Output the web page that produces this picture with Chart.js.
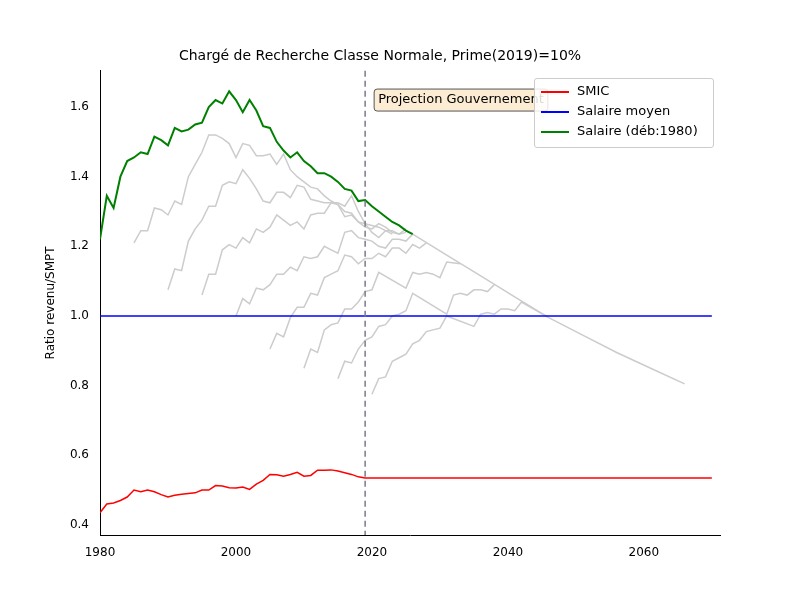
<!DOCTYPE html>
<html>
<head>
<meta charset="utf-8">
<script src="https://cdn.jsdelivr.net/npm/chart.js@4/dist/chart.umd.min.js"></script>
<style>
  body { margin: 0; background: #fff; }
  #wrap { width: 800px; height: 600px; position: relative; }
</style>
</head>
<body>
<div id="wrap"><canvas id="c" width="800" height="600"></canvas>
<div id="leg" style="position:absolute;left:534px;top:78px;width:178px;height:68px;border:1px solid #ccc;border-radius:3px;background:rgba(255,255,255,0.85);font:13px 'DejaVu Sans';">
  <div style="position:absolute;left:6px;top:4px;"><span style="display:inline-block;width:28px;border-top:2px solid red;vertical-align:middle;margin-right:8px"></span>SMIC</div>
  <div style="position:absolute;left:6px;top:24px;"><span style="display:inline-block;width:28px;border-top:2px solid blue;vertical-align:middle;margin-right:8px"></span>Salaire moyen</div>
  <div style="position:absolute;left:6px;top:44px;"><span style="display:inline-block;width:28px;border-top:2px solid green;vertical-align:middle;margin-right:8px"></span>Salaire (déb:1980)</div>
</div>
</div>
<script>
// SMIC / SMPT (flat after 2019)
const smicYears = [1980,1981,1982,1983,1984,1985,1986,1987,1988,1989,1990,1991,1992,1993,1994,1995,1996,1997,1998,1999,2000,2001,2002,2003,2004,2005,2006,2007,2008,2009,2010,2011,2012,2013,2014,2015,2016,2017,2018,2019,2070];
const smicVals = [0.435,0.46,0.463,0.47,0.48,0.5,0.495,0.5,0.495,0.487,0.48,0.485,0.488,0.49,0.492,0.5,0.5,0.513,0.512,0.507,0.506,0.509,0.502,0.517,0.528,0.545,0.544,0.54,0.545,0.551,0.54,0.542,0.557,0.557,0.558,0.555,0.55,0.545,0.538,0.535,0.535];

const greenYears = [1980,1981,1982,1983,1984,1985,1986,1987,1988,1989,1990,1991,1992,1993,1994,1995,1996,1997,1998,1999,2000,2001,2002,2003,2004,2005,2006,2007,2008,2009,2010,2011,2012,2013,2014,2015,2016,2017,2018,2019,2020,2021,2022,2023,2024,2025,2026];
const greenVals = [1.22,1.345,1.31,1.40,1.445,1.455,1.47,1.465,1.515,1.505,1.49,1.54,1.53,1.535,1.55,1.555,1.60,1.62,1.61,1.645,1.62,1.585,1.62,1.59,1.545,1.54,1.5,1.475,1.455,1.47,1.445,1.43,1.41,1.41,1.40,1.385,1.365,1.36,1.33,1.333,1.315,1.30,1.285,1.27,1.26,1.245,1.235];

// grey careers: [year, ratio] pairs
const career1985 = [[1985,1.21],[1986,1.245],[1987,1.245],[1988,1.31],[1989,1.305],[1990,1.29],[1991,1.33],[1992,1.32],[1993,1.40],[1994,1.435],[1995,1.47],[1996,1.52],[1997,1.52],[1998,1.51],[1999,1.495],[2000,1.455],[2001,1.495],[2002,1.49],[2003,1.46],[2004,1.46],[2005,1.465],[2006,1.435],[2007,1.465],[2008,1.42],[2009,1.40],[2010,1.385],[2011,1.37],[2012,1.365],[2013,1.345],[2014,1.33],[2015,1.32],[2016,1.30],[2017,1.295],[2018,1.27],[2019,1.265],[2020,1.26],[2021,1.255],[2022,1.245],[2023,1.235]];
const career1990 = [[1990,1.075],[1991,1.135],[1992,1.13],[1993,1.215],[1994,1.25],[1995,1.275],[1996,1.315],[1997,1.315],[1998,1.375],[1999,1.385],[2000,1.38],[2001,1.42],[2002,1.395],[2003,1.365],[2004,1.33],[2005,1.325],[2006,1.355],[2007,1.355],[2008,1.34],[2009,1.375],[2010,1.37],[2011,1.335],[2012,1.33],[2013,1.325],[2014,1.325],[2015,1.32],[2016,1.285],[2017,1.29],[2018,1.27],[2019,1.255],[2020,1.25],[2021,1.265],[2022,1.255],[2023,1.24],[2024,1.235],[2025,1.24]];
const career1995 = [[1995,1.06],[1996,1.12],[1997,1.12],[1998,1.19],[1999,1.205],[2000,1.195],[2001,1.225],[2002,1.21],[2003,1.25],[2004,1.24],[2005,1.255],[2006,1.29],[2007,1.275],[2008,1.26],[2009,1.27],[2010,1.25],[2011,1.29],[2012,1.295],[2013,1.295],[2014,1.325],[2015,1.325],[2016,1.315],[2017,1.345],[2018,1.30],[2019,1.265],[2020,1.24],[2021,1.225],[2022,1.245],[2023,1.245],[2024,1.235],[2025,1.25]];
const career2000 = [[2000,1.0],[2001,1.05],[2002,1.035],[2003,1.08],[2004,1.075],[2005,1.09],[2006,1.12],[2007,1.12],[2008,1.14],[2009,1.13],[2010,1.17],[2011,1.165],[2012,1.17],[2013,1.2],[2014,1.19],[2015,1.18],[2016,1.24],[2017,1.245],[2018,1.225],[2019,1.22],[2020,1.215],[2021,1.20],[2022,1.195],[2023,1.22],[2024,1.22],[2025,1.215],[2026,1.235]];
const career2005 = [[2005,0.905],[2006,0.95],[2007,0.94],[2008,0.995],[2009,1.025],[2010,1.025],[2011,1.065],[2012,1.06],[2013,1.11],[2014,1.12],[2015,1.13],[2016,1.175],[2017,1.17],[2018,1.15],[2019,1.165],[2020,1.165],[2021,1.18],[2022,1.17],[2023,1.195],[2024,1.195],[2025,1.18],[2026,1.205],[2027,1.195],[2028,1.21]];
const career2010 = [[2010,0.85],[2011,0.905],[2012,0.895],[2013,0.96],[2014,0.975],[2015,0.98],[2016,1.02],[2017,1.02],[2018,1.04],[2019,1.07],[2020,1.075],[2021,1.125],[2025,1.08],[2026,1.125],[2027,1.12],[2028,1.125],[2029,1.12],[2030,1.11],[2031,1.155],[2033,1.15]];
const career2015 = [[2015,0.82],[2016,0.87],[2017,0.865],[2018,0.905],[2019,0.93],[2020,0.94],[2021,0.97],[2022,0.975],[2023,1.0],[2024,1.005],[2025,1.015],[2026,1.065],[2031,1.005],[2032,1.06],[2033,1.065],[2034,1.06],[2035,1.075],[2036,1.075],[2037,1.07],[2038,1.09]];
const career2020 = [[2020,0.775],[2021,0.82],[2022,0.825],[2023,0.87],[2024,0.88],[2025,0.89],[2026,0.92],[2027,0.93],[2028,0.955],[2029,0.96],[2030,0.965],[2031,1.0],[2035,0.97],[2036,1.005],[2037,1.01],[2038,1.005],[2039,1.02],[2040,1.02],[2041,1.015],[2042,1.04],[2046,0.995],[2051,0.945],[2056,0.895],[2061,0.85],[2066,0.805]];
// common end-of-grade projection
const commonLine = [[2026,1.235],[2031,1.175],[2036,1.115],[2041,1.055],[2046,0.995]];

const greys = [career1985,career1990,career1995,career2000,career2005,career2010,career2015,career2020,commonLine];
const toPts = a => a.map(p => ({x: p[0], y: p[1]}));

const datasets = [
  {label: 'SMIC', data: smicYears.map((x,i)=>({x, y: smicVals[i]})), borderColor: 'red', borderWidth: 1.5, pointRadius: 0, order: 1},
  {label: 'Salaire moyen', data: [{x:1980,y:1},{x:2070,y:1}], borderColor: 'blue', borderWidth: 1.5, pointRadius: 0, order: 1},
  {label: 'Salaire (déb:1980)', data: greenYears.map((x,i)=>({x, y: greenVals[i]})), borderColor: 'green', borderWidth: 2, pointRadius: 0, order: 0}
];
greys.forEach(g => datasets.push({label: '', data: toPts(g), borderColor: '#cccccc', borderWidth: 1.5, pointRadius: 0, order: 2}));

const extras = {
  id: 'extras',
  afterDatasetsDraw(chart) {
    const {ctx, chartArea: a, scales: {x, y}} = chart;
    const px = x.getPixelForValue(2019);
    ctx.save();
    ctx.strokeStyle = '#7a7a8a'; ctx.lineWidth = 1.5; ctx.setLineDash([6, 4]);
    ctx.beginPath(); ctx.moveTo(px, a.top); ctx.lineTo(px, a.bottom); ctx.stroke();
    ctx.setLineDash([]);
    const tx = px + 9, ty = y.getPixelForValue(1.62);
    ctx.font = '13px "DejaVu Sans"';
    const t = 'Projection Gouvernement';
    const w = ctx.measureText(t).width;
    ctx.fillStyle = '#fbecd3'; ctx.strokeStyle = '#555'; ctx.lineWidth = 1;
    ctx.beginPath(); ctx.roundRect(tx, ty - 11, w + 8, 22, 3); ctx.fill(); ctx.stroke();
    ctx.fillStyle = '#000'; ctx.textBaseline = 'middle';
    ctx.fillText(t, tx + 4, ty);
    ctx.restore();
  }
};

new Chart(document.getElementById('c'), {
  type: 'line',
  data: {datasets},
  plugins: [extras],
  options: {
    responsive: false, animation: false,
    layout: {padding: {left: 40, right: 80, top: 0, bottom: 0}},
    elements: {line: {tension: 0}},
    scales: {
      x: {type: 'linear', min: 1980, max: 2071.2,
        afterFit: s => { s.height = 65; },
        grid: {display: false}, border: {color: '#000'},
        ticks: {stepSize: 20, color: '#000', font: {family: 'DejaVu Sans', size: 12},
          callback: v => (v % 20 === 0 && v <= 2060) ? v : null}},
      y: {min: 0.371, max: 1.704,
        afterFit: s => { s.width = 60; },
        grid: {display: false}, border: {color: '#000'},
        title: {display: true, text: 'Ratio revenu/SMPT', color: '#000', font: {family: 'DejaVu Sans', size: 12}},
        afterBuildTicks: s => { s.ticks = [0.4,0.6,0.8,1.0,1.2,1.4,1.6].map(v => ({value: v})); },
        ticks: {color: '#000', font: {family: 'DejaVu Sans', size: 12}, callback: v => v.toFixed(1)}}
    },
    plugins: {
      title: {display: true, text: 'Chargé de Recherche Classe Normale, Prime(2019)=10%', color: '#000', font: {family: 'DejaVu Sans', size: 14, weight: 'normal'}, padding: {top: 48, bottom: 6}},
      legend: {display: false},
      tooltip: {enabled: false}
    }
  }
});
</script>
</body>
</html>
